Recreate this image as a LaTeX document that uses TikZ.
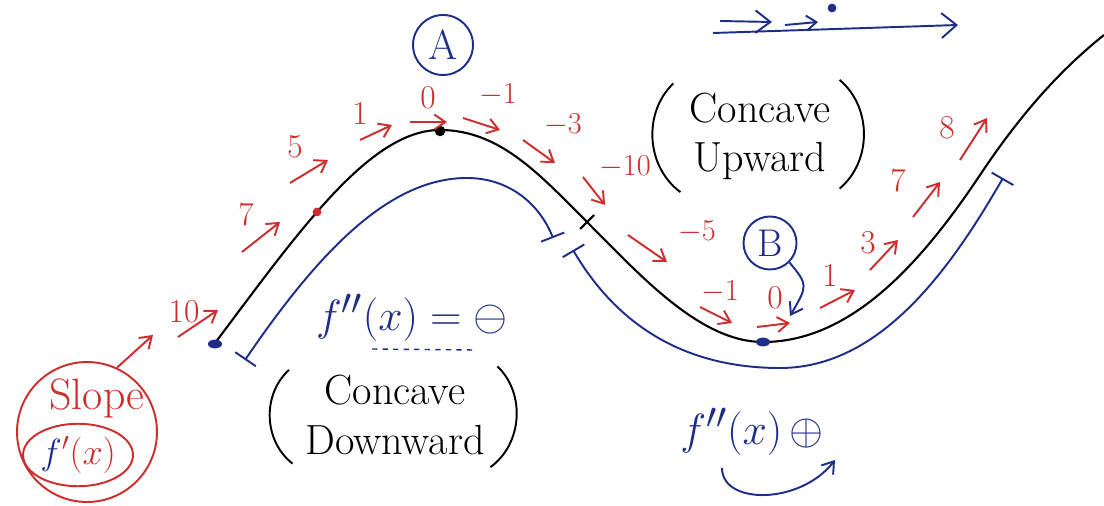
\documentclass[tikz,border=0pt]{standalone}
\usetikzlibrary{arrows.meta,shapes.geometric}
\definecolor{penred}{RGB}{205,45,45}
\definecolor{pennavy}{RGB}{30,45,135}
\begin{document}
\begin{tikzpicture}[x=0.02cm,y=-0.02cm,
  slopearr/.style={penred,line width=1.1pt,-{Straight Barb[length=2.2mm,width=3mm]}},
  val/.style={text=penred,font=\fontsize{19}{20}\selectfont},
  bluepen/.style={pennavy,line width=1.1pt},
  remark/.style={font=\fontsize{24}{28}\selectfont,align=center,inner sep=1pt},
  paren/.style={line width=1.1pt},
  inkdot/.style={ellipse,fill=pennavy,inner sep=0pt,minimum width=8pt,minimum height=5pt}]
\useasboundingbox (0,0) rectangle (1104,506);

\draw[line width=1.2pt] (215,343) .. controls (300,230) and (370,130) .. (440,130)
  .. controls (500,130) and (540,175) .. (587,222)
  .. controls (640,275) and (700,342) .. (763,342)
  .. controls (850,342) and (920,265) .. (980,175)
  .. controls (1020,115) and (1060,70) .. (1104,35);
\node[inkdot] (p1) at (215,344) {};
\node[inkdot] (p2) at (763,342) {};
\fill[penred] (317,212) circle (2.5pt);
\fill (440,131) circle (3pt);
\draw[line width=1.2pt] (580,229) -- (594,215);

\draw[bluepen,{Bar[width=5mm]}-{Bar[width=5mm]}] (245,360) .. controls (320,250) and (390,178) .. (467,178)
  .. controls (510,178) and (540,205) .. (553,238);
\draw[bluepen,{Bar[width=5mm]}-{Bar[width=5mm]}] (573,250) .. controls (620,330) and (690,368) .. (780,368)
  .. controls (880,368) and (950,270) .. (1003,178);

\node[val] (v1) at (184,312) {10};
\draw[slopearr] (178,337) -- (218,310);
\node[val] (v2) at (246,214) {7};
\draw[slopearr] (242,252) -- (280,222);
\node[val] (v3) at (295,147) {5};
\draw[slopearr] (290,183) -- (328,160);
\node[val] (v4) at (360,113) {1};
\draw[slopearr] (360,140) -- (392,125);
\node[val] (v5) at (428,98) {0};
\draw[slopearr] (410,122) -- (447,122);
\node[val] (v6) at (498,95) {\(-1\)};
\draw[slopearr] (463,118) -- (500,130);
\node[val] (v7) at (563,125) {\(-3\)};
\draw[slopearr] (523,140) -- (555,163);
\node[val] (v8) at (625,167) {\(-10\)};
\draw[slopearr] (583,177) -- (605,205);
\node[val] (v9) at (697,232) {\(-5\)};
\draw[slopearr] (628,235) -- (667,262);
\node[val] (v10) at (720,292) {\(-1\)};
\draw[slopearr] (700,307) -- (732,323);
\node[val] (v11) at (775,298) {0};
\draw[slopearr] (757,327) -- (790,323);
\node[val] (v12) at (830,275) {1};
\draw[slopearr] (820,308) -- (855,290);
\node[val] (v13) at (868,243) {3};
\draw[slopearr] (870,270) -- (898,240);
\node[val] (v14) at (898,180) {7};
\draw[slopearr] (913,217) -- (940,182);
\node[val] (v15) at (947,128) {8};
\draw[slopearr] (960,160) -- (987,118);

\node[draw=penred,circle,line width=1.1pt,minimum size=2.8cm] (slope) at (87,432) {};
\node[val,font=\fontsize{25}{25}\selectfont] (slopetxt) at (97,398) {Slope};
\node[draw=penred,ellipse,line width=1.1pt,minimum width=2.2cm,minimum height=1.25cm,inner sep=0pt,font=\fontsize{22}{22}\selectfont] (fprime) at (78,455) {\textcolor{pennavy}{\(f\)}\textcolor{penred}{\('(x)\)}};
\coordinate (slopetip) at (153,335);
\draw[slopearr] (slope.65) -- (slopetip);

\node[draw=pennavy,circle,line width=1.1pt,minimum size=1.2cm,text=pennavy,font=\fontsize{24}{24}\selectfont] (ptA) at (443,45) {A};
\node[draw=pennavy,circle,line width=1.1pt,minimum size=1.0cm,text=pennavy,font=\fontsize{22}{22}\selectfont] (ptB) at (770,243) {B};
\coordinate (Btip) at (790,316);
\draw[bluepen,-{Straight Barb[length=2.2mm,width=3mm]}] (ptB.south east) .. controls (808,285) .. (Btip);

\node[text=pennavy,font=\fontsize{28}{28}\selectfont] (fneg) at (412,318) {\(f''(x)=\ominus\)};
\draw[bluepen,dashed,line width=0.8pt] (372,349) -- (475,350);

\node[remark] (cdown) at (395,415) {Concave\\Downward};
\draw[paren] ([xshift=-8pt,yshift=2pt]cdown.north west) to[bend right=50] ([xshift=-6pt,yshift=-4pt]cdown.south west);
\draw[paren] ([xshift=6pt,yshift=4pt]cdown.north east) to[bend left=50] ([xshift=2pt,yshift=-6pt]cdown.south east);

\node[remark] (cup) at (760,136) {Concave\\Upward};
\draw[paren] ([xshift=-8pt,yshift=4pt]cup.north west) to[bend right=50] ([xshift=-4pt,yshift=-6pt]cup.south west);
\draw[paren] ([xshift=4pt,yshift=6pt]cup.north east) to[bend left=50] ([xshift=4pt,yshift=-4pt]cup.south east);

\node[text=pennavy,font=\fontsize{30}{30}\selectfont] (fpos) at (752,432) {\(f''(x)\,\oplus\)};
\coordinate (smileA) at (722,468);
\coordinate (smileB) at (835,460);
\draw[bluepen,-{Straight Barb[length=2.2mm,width=3mm]}] (smileA) .. controls (722,505) and (800,505) .. (smileB);

\coordinate (t1) at (720,21);
\coordinate (t2) at (772,22);
\coordinate (t3) at (713,33);
\coordinate (t4) at (958,25);
\coordinate (t5) at (785,25);
\coordinate (t6) at (818,22);
\draw[bluepen,-{Straight Barb[length=3mm,width=4.5mm]}] (t1) -- (t2);
\draw[bluepen,-{Straight Barb[length=3mm,width=5mm]}] (t3) -- (t4);
\draw[bluepen,-{Straight Barb[length=2mm,width=3mm]}] (t5) -- (t6);
\fill[pennavy] (832,8) circle (2.5pt);
\end{tikzpicture}
\end{document}
